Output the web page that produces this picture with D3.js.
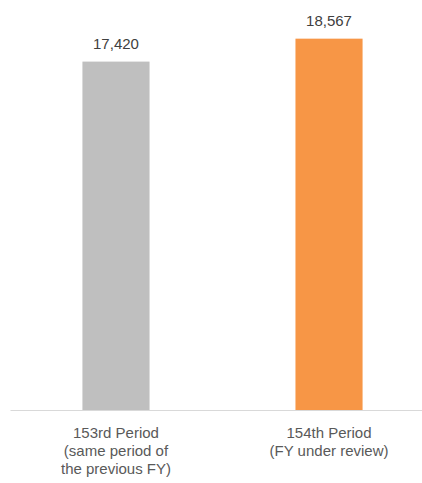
<!DOCTYPE html>
<html>
<head>
<meta charset="utf-8">
<script src="https://cdn.jsdelivr.net/npm/d3@7"></script>
<style>
  body { margin: 0; background: #fff; }
  #chart text { font-family: "Liberation Sans", "DejaVu Sans", sans-serif; }
</style>
</head>
<body>
<div id="chart"></div>
<script>
// data
const categories = ["153rd", "154th"];
const categoryLines = [
  ["153rd Period", "(same period of", "the previous FY)"],
  ["154th Period", "(FY under review)"]
];
const values = [17420, 18567];
const colors = ["#bfbfbf", "#f79646"];

const width = 422;
const height = 483;
const margin = { top: 10, right: -13, bottom: 73, left: 10 };

const svg = d3
  .select("#chart")
  .append("svg")
  .attr("width", width)
  .attr("height", height);

// X scale (categories) - plot area runs a bit past the right edge, like the original
const x = d3
  .scaleBand()
  .domain(categories)
  .range([margin.left, width - margin.right])
  .paddingInner(0.685)
  .paddingOuter(0.34);

// Y scale (values)
const y = d3
  .scaleLinear()
  .domain([0, 20000])
  .range([height - margin.bottom, margin.top]);

// Bars
svg
  .selectAll(".bar")
  .data(values)
  .enter()
  .append("rect")
  .attr("class", "bar")
  .attr("x", (d, i) => x(categories[i]))
  .attr("y", (d) => y(d))
  .attr("width", x.bandwidth())
  .attr("height", (d) => y(0) - y(d))
  .attr("fill", (d, i) => colors[i]);

// Value labels
svg
  .selectAll(".label")
  .data(values)
  .enter()
  .append("text")
  .attr("class", "label")
  .attr("x", (d, i) => x(categories[i]) + x.bandwidth() / 2)
  .attr("y", (d) => y(d) - 13)
  .attr("text-anchor", "middle")
  .attr("font-size", "15px")
  .attr("fill", "#404040")
  .text((d) => d3.format(",")(d));

// X axis
const xAxis = svg
  .append("g")
  .attr("transform", `translate(0,${y(0)})`)
  .call(d3.axisBottom(x).tickSize(0).tickFormat(""));

xAxis.select(".domain").attr("stroke", "#d9d9d9").attr("stroke-width", 1);

// multi-line category labels
xAxis
  .selectAll(".tick")
  .append("text")
  .attr("text-anchor", "middle")
  .attr("fill", "#595959")
  .attr("font-size", "15px")
  .selectAll("tspan")
  .data((d, i) => categoryLines[i])
  .enter()
  .append("tspan")
  .attr("x", 0)
  .attr("y", (d, i) => 28 + i * 18)
  .text((d) => d);
</script>
</body>
</html>
